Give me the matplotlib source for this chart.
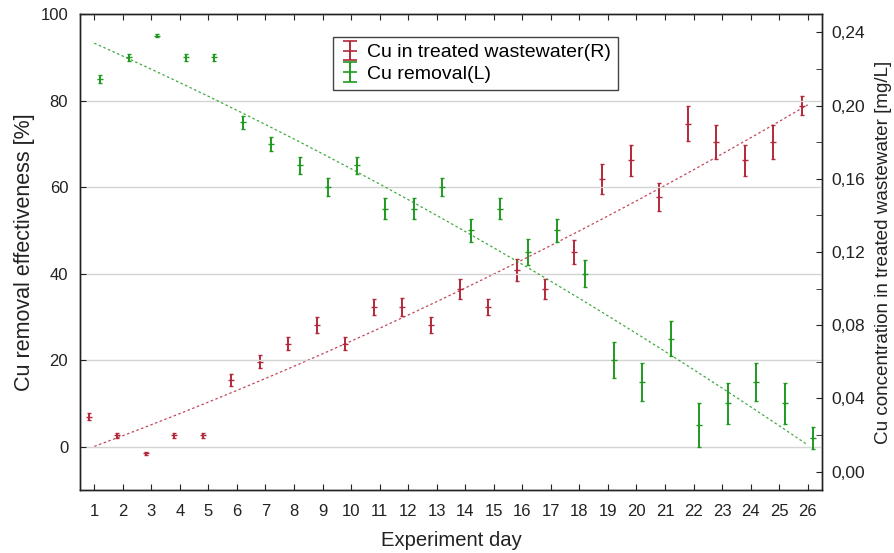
import numpy as np
import matplotlib
matplotlib.use("Agg")
import matplotlib.pyplot as plt
from matplotlib.ticker import MultipleLocator, FuncFormatter

plt.rcParams['font.family'] = ['Liberation Sans', 'DejaVu Sans']

days = list(range(1, 27))
cu_removal = [85, 90, 95, 90, 90, 75, 70, 65, 60, 65, 55, 55, 60, 50, 55,
              45, 50, 40, 20, 15, 25, 5, 10, 15, 10, 2]
removal_err = [1.0, 0.8, 0.4, 0.8, 0.8, 1.5, 1.6, 2.0, 2.0, 2.0, 2.4, 2.4, 2.0,
               2.6, 2.4, 3.0, 2.7, 3.2, 4.2, 4.4, 4.0, 5.0, 4.7, 4.4, 4.7, 2.6]
cu_treated = [0.03, 0.02, 0.01, 0.02, 0.02, 0.05, 0.06, 0.07, 0.08, 0.07, 0.09,
              0.09, 0.08, 0.10, 0.09, 0.11, 0.10, 0.12, 0.16, 0.17, 0.15, 0.19,
              0.18, 0.17, 0.18, 0.20]
treated_err = [0.002, 0.0014, 0.001, 0.0014, 0.0014, 0.0032, 0.0035, 0.0037,
               0.0043, 0.0037, 0.0046, 0.005, 0.0043, 0.0054, 0.0046, 0.006,
               0.0054, 0.0065, 0.0083, 0.0086, 0.0077, 0.0096, 0.0091, 0.0086,
               0.0091, 0.0052]
legend_labels = ['Cu in treated wastewater(R)', 'Cu removal(L)']

RED = '#b3283a'
GREEN = '#1f9a1f'
TXT = '#222222'

fig = plt.figure(figsize=(8.95, 5.53), dpi=100)
ax = fig.add_axes([80/895, 1-490/553, (822-80)/895, (490-14)/553])
ax2 = ax.twinx()

x = np.array(days, dtype=float)
off = 0.2

# left axis: removal
ax.set_xlim(0.5, 26.5)
ax.set_ylim(-10, 100)
ax.yaxis.set_major_locator(MultipleLocator(20))
ax.set_xticks(days)
ax.grid(axis='y', color='#d4d4d4', linewidth=1.0)
ax.set_axisbelow(True)

# right axis: concentration
ax2.set_ylim(-0.01, 0.25)
ax2.yaxis.set_major_locator(MultipleLocator(0.04))
ax2.yaxis.set_minor_locator(MultipleLocator(0.02))
ax2.yaxis.set_major_formatter(FuncFormatter(lambda v, p: f"{v:.2f}".replace('.', ',')))

# fits
xs = np.linspace(1, 26, 200)
cg = np.polyfit(x, cu_removal, 2)
cr = np.polyfit(x, cu_treated, 2)
ax.plot(xs, np.polyval(cg, xs), linestyle=(0, (2, 2)), color=GREEN, linewidth=0.9, alpha=0.85)
ax2.plot(xs, np.polyval(cr, xs), linestyle=(0, (2, 2)), color=RED, linewidth=0.9, alpha=0.85)

ekw = dict(fmt='_', elinewidth=1.4, capsize=1.5, capthick=1.0, markersize=4, markeredgewidth=1.0)
ax2.errorbar(x - off, cu_treated, yerr=treated_err, color=RED, ecolor=RED, **ekw)
ax.errorbar(x + off, cu_removal, yerr=removal_err, color=GREEN, ecolor=GREEN, **ekw)

# legend proxies (no data) with visible caps
lkw = dict(fmt='_', elinewidth=1.4, capsize=5, capthick=1.2, markersize=10, markeredgewidth=1.2)
h_r = ax.errorbar([np.nan], [np.nan], yerr=[1], color=RED, ecolor=RED, **lkw)
h_g = ax.errorbar([np.nan], [np.nan], yerr=[1], color=GREEN, ecolor=GREEN, **lkw)

for a in (ax, ax2):
    for s in a.spines.values():
        s.set_color(TXT)
        s.set_linewidth(1.0)

ax.tick_params(axis='x', which='both', direction='in', length=4, labelsize=12, pad=10,
               top=True, colors=TXT, labelcolor=TXT)
ax.tick_params(axis='y', which='both', direction='in', length=4, labelsize=12, pad=8.5,
               colors=TXT, labelcolor=TXT)
ax2.tick_params(axis='y', which='both', direction='in', length=4, labelsize=12.5, pad=7,
                colors=TXT, labelcolor=TXT)

ax.set_xlabel('Experiment day', fontsize=14.6, labelpad=9, color=TXT)
ax.set_ylabel('Cu removal effectiveness [%]', fontsize=15.5, labelpad=4, color=TXT)
ax2.set_ylabel('Cu concentration in treated wastewater [mg/L]', fontsize=13.6,
               labelpad=7, color=TXT)

leg = ax.legend([h_r, h_g], legend_labels,
                loc='upper left', bbox_to_anchor=((333-80)/742, 1-23/476),
                borderaxespad=0, fancybox=False, framealpha=1, edgecolor='#444444',
                fontsize=14, handlelength=1.0, handletextpad=0.4, borderpad=0.35,
                labelspacing=0.2)
leg.get_frame().set_linewidth(1.0)
ax.set_zorder(ax2.get_zorder() + 1)
ax.patch.set_visible(False)

fig.savefig('out.png', dpi=100)
